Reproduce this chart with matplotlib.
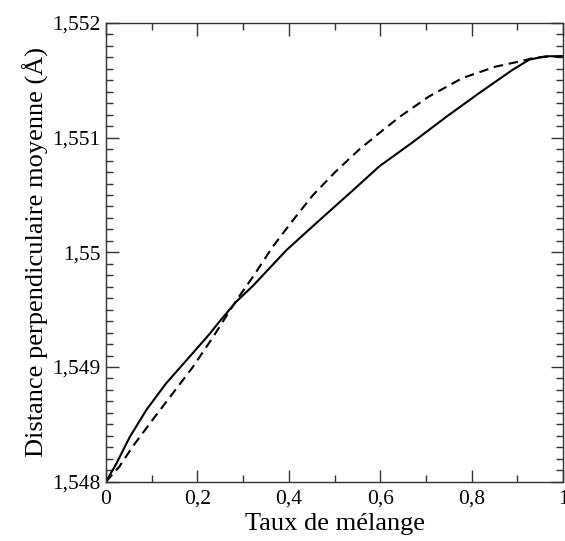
import matplotlib
matplotlib.use("Agg")
import matplotlib.pyplot as plt
from matplotlib.ticker import MultipleLocator

plt.rcParams['font.family'] = ['Liberation Serif', 'DejaVu Serif']

# taux de melange vs distance (solid curve)
x_solid = [0.0, 0.023, 0.052, 0.089, 0.132, 0.183, 0.227, 0.249, 0.285,
           0.322, 0.395, 0.467, 0.540, 0.598, 0.671, 0.744, 0.817, 0.889,
           0.926, 0.962, 1.0]
y_solid = [1.54800, 1.54816, 1.54839, 1.54863, 1.54886, 1.54909, 1.54929,
           1.54940, 1.54957, 1.54971, 1.55002, 1.55028, 1.55054, 1.55075,
           1.55096, 1.55118, 1.55139, 1.55159, 1.55168, 1.55171, 1.55171]

# dashed curve
x_dash = [0.0, 0.029, 0.059, 0.102, 0.146, 0.190, 0.234, 0.285, 0.322,
          0.365, 0.409, 0.453, 0.504, 0.555, 0.598, 0.642, 0.707, 0.780,
          0.853, 0.911, 0.940, 1.0]
y_dash = [1.54800, 1.54813, 1.54831, 1.54854, 1.54877, 1.54900, 1.54926,
          1.54958, 1.54979, 1.55005, 1.55028, 1.55050, 1.55071, 1.55090,
          1.55104, 1.55118, 1.55136, 1.55152, 1.55162, 1.55167, 1.55170,
          1.55171]

xticks = [0, 0.2, 0.4, 0.6, 0.8, 1.0]
xticklabels = ["0", "0,2", "0,4", "0,6", "0,8", "1"]
yticks = [1.548, 1.549, 1.550, 1.551, 1.552]
yticklabels = ["1,548", "1,549", "1,55", "1,551", "1,552"]

fig = plt.figure(figsize=(5.65, 5.41), dpi=100)
ax = fig.add_axes([0.1876, 0.1096, 0.8089, 0.8479])

ax.plot(x_solid, y_solid, color='black', lw=1.5)
ax.plot(x_dash, y_dash, color='black', lw=1.5, linestyle=(0, (4.5, 2.8)))

ax.set_xlim(0, 1)
ax.set_ylim(1.548, 1.552)
ax.set_xticks(xticks)
ax.set_xticklabels(xticklabels)
ax.set_yticks(yticks)
ax.set_yticklabels(yticklabels)
ax.xaxis.set_minor_locator(MultipleLocator(0.1))
ax.yaxis.set_minor_locator(MultipleLocator(0.0001))

ax.tick_params(which='both', direction='in', top=True, right=True,
               labelsize=15.5, color='#333333')
ax.tick_params(axis='x', pad=6)
ax.tick_params(axis='y', pad=4)
ax.tick_params(which='major', length=9, width=1.0)
ax.tick_params(which='minor', length=5, width=1.0)
for s in ax.spines.values():
    s.set_linewidth(1.0)
    s.set_color('#333333')

ax.set_xlabel("Taux de mélange", fontsize=19, labelpad=3)
ax.set_ylabel("Distance perpendiculaire moyenne (Å)", fontsize=19, labelpad=2)

fig.savefig("out.png", dpi=100)
